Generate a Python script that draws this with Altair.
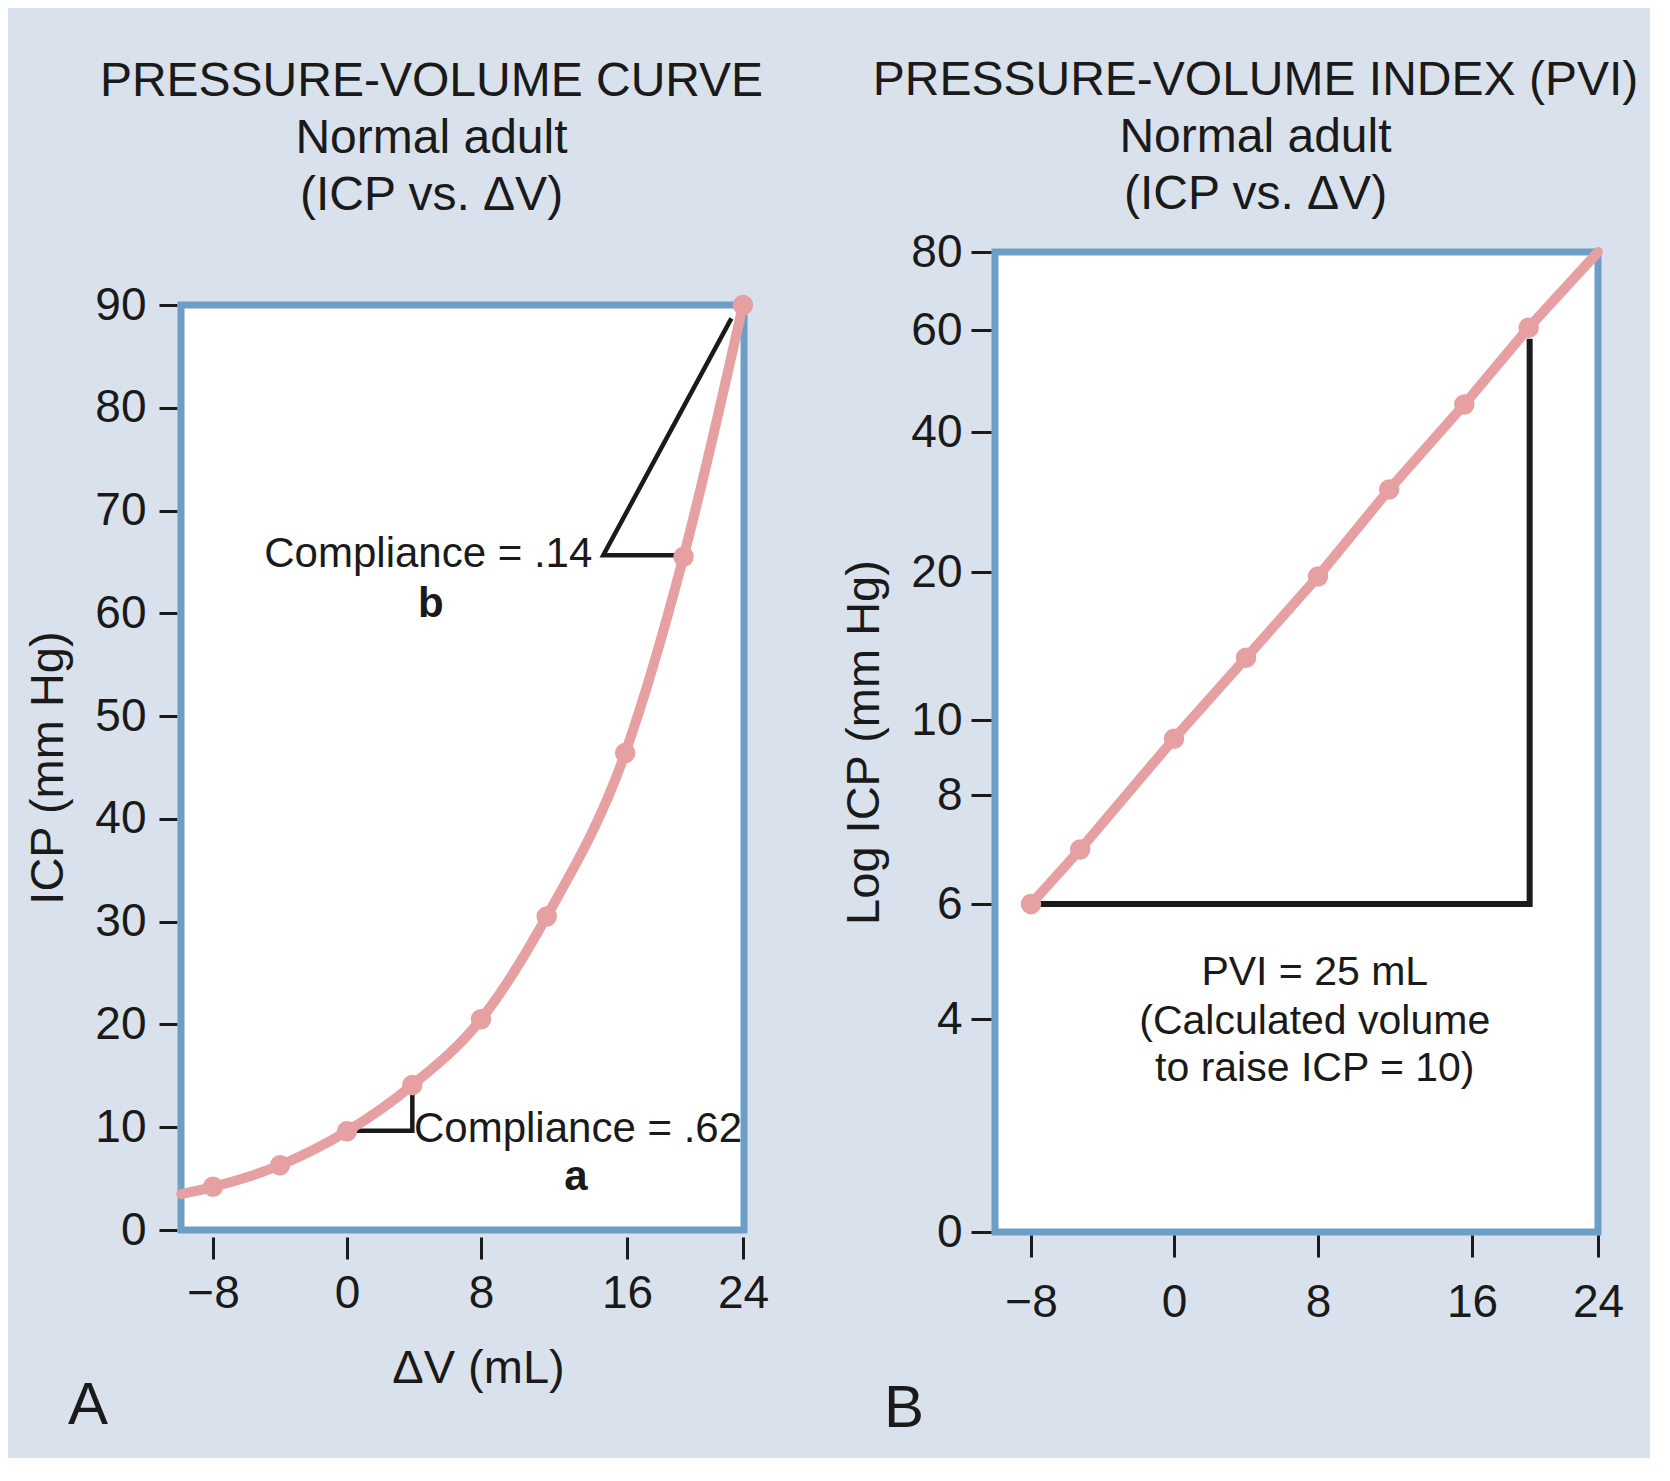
import altair as alt
import pandas as pd

# ---------------- data ----------------
# Panel A: pressure-volume curve (ICP vs. dV)
a_dv = [-9.9, -8, -4, 0, 3.9, 8, 11.6, 15.9, 19.9, 24]
a_icp = [3.5, 4.2, 6.3, 9.6, 14.1, 20.5, 30.5, 46.4, 65.5, 90.0]
a_dot = [False, True, True, True, True, True, True, True, True, True]

# plotting frame of panel A (data extent of the box)
a_frame_dv = [-9.91, 24.07]
a_frame_icp = [0, 90]

# compliance triangles
tri_name = ["a", "a", "a", "b", "b", "b"]
tri_dv = [0, 3.9, 3.9, 20, 14.7, 23.2]
tri_icp = [9.65, 9.65, 13.65, 65.65, 65.65, 88.7]

a_note_text = ["Compliance = .14", "Compliance = .62"]
a_note_dv = [14.1, 4.0]
a_note_icp = [64.5, 8.6]
a_letter_text = ["b", "a"]
a_letter_dv = [5.0, 13.2]
a_letter_icp = [59.6, 3.9]

# Panel B: pressure-volume index (log ICP vs. dV)
b_dv = [-8, -5.25, 0, 4.0, 8, 11.7, 15.6, 19.6, 24]
b_icp = [6, 7.0, 9.5, 14.2, 19.7, 31.8, 45.4, 60.6, 80]
b_dot = [True, True, True, True, True, True, True, True, False]

pvi_dv = [-8, 19.66, 19.66]
pvi_icp = [6, 6, 58.3]

pvi_text = ["PVI = 25 mL", "(Calculated volume", "to raise ICP = 10)"]
pvi_text_dv = [7.82, 7.82, 7.82]
pvi_text_icp = [4.59, 3.71, 2.83]

panel_text = ["A", "B"]
panel_dv = [-15.46, -15.1]
panel_icp = [-18.9, -3.66]

x_ticks = [-8, 0, 8, 16, 24]
a_y_ticks = [0, 10, 20, 30, 40, 50, 60, 70, 80, 90]
b_y_ticks = [0, 4, 6, 8, 10, 20, 40, 60, 80]

# ---------------- styling ----------------
FONT = "Liberation Sans"
INK = "#1a1a1a"
PINK = "#e6a0a2"
FRAME = "#6d9fc6"
BG = "#d9e2ec"

A_W = 563
B_W, H = 603, 980
A_X_RANGE = [32, 166, 300, 446, 562]          # drawn (uneven) tick spacing
A_Y_RANGE = [978, 53]
B_X_RANGE = [36, 179, 323, 477, 603]
B_Y_RANGE = [980, 767, 652, 543, 468, 320, 180, 78, 0]


def axis(values, title, tick_size, offset, label_pad, title_pad):
    return alt.Axis(
        values=values, title=title, grid=False, domain=False,
        ticks=True, tickSize=tick_size, tickWidth=3, tickColor=INK, offset=offset,
        labelFont=FONT, labelFontSize=46, labelColor=INK, labelPadding=label_pad,
        labelFlush=False, labelOverlap=False,
        titleFont=FONT, titleFontSize=47, titleFontWeight="normal", titleColor=INK,
        titlePadding=title_pad,
    )


# ---------------- panel A ----------------
ax = alt.X("dv:Q", scale=alt.Scale(domain=x_ticks, range=A_X_RANGE, nice=False, zero=False),
           axis=axis(x_ticks, "ΔV (mL)", 22, 5, 12, 29))
ay = alt.Y("icp:Q", scale=alt.Scale(domain=[0, 90], range=A_Y_RANGE, nice=False, zero=False),
           axis=axis(a_y_ticks, "ICP (mm Hg)", 18, 4, 13, 22))

a_df = pd.DataFrame({"dv": a_dv, "icp": a_icp, "dot": a_dot})
frame_df = pd.DataFrame({"dv": [a_frame_dv[0]], "dv2": [a_frame_dv[1]],
                         "icp": [a_frame_icp[0]], "icp2": [a_frame_icp[1]]})
tri_df = pd.DataFrame({"tri": tri_name, "dv": tri_dv, "icp": tri_icp,
                       "step": list(range(len(tri_dv)))})
a_note_df = pd.DataFrame({"dv": a_note_dv, "icp": a_note_icp, "label": a_note_text})
a_letter_df = pd.DataFrame({"dv": a_letter_dv, "icp": a_letter_icp, "label": a_letter_text})
a_panel_df = pd.DataFrame({"dv": [panel_dv[0]], "icp": [panel_icp[0]], "label": [panel_text[0]]})

a_frame = alt.Chart(frame_df).mark_rect(fill="white", stroke=FRAME, strokeWidth=7).encode(
    x=ax, x2="dv2", y=ay, y2="icp2")
a_tri = alt.Chart(tri_df).mark_line(color=INK, strokeWidth=4.5, strokeJoin="miter").encode(
    x=ax, y=ay, detail="tri:N", order="step:Q")
a_line = alt.Chart(a_df).mark_line(color=PINK, strokeWidth=10, interpolate="monotone",
                                   strokeCap="round").encode(x=ax, y=ay)
a_pts = alt.Chart(a_df).transform_filter("datum.dot").mark_circle(
    color=PINK, size=420, opacity=1).encode(x=ax, y=ay)
a_note_r = alt.Chart(a_note_df.iloc[[0]]).mark_text(
    align="right", baseline="alphabetic", font=FONT, fontSize=42, color=INK).encode(
    x=ax, y=ay, text="label:N")
a_note_l = alt.Chart(a_note_df.iloc[[1]]).mark_text(
    align="left", baseline="alphabetic", font=FONT, fontSize=42, color=INK).encode(
    x=ax, y=ay, text="label:N")
a_letters = alt.Chart(a_letter_df).mark_text(
    align="center", baseline="alphabetic", font=FONT, fontSize=42, fontWeight="bold",
    color=INK).encode(x=ax, y=ay, text="label:N")
a_panel = alt.Chart(a_panel_df).mark_text(
    align="center", baseline="alphabetic", font=FONT, fontSize=60, color=INK).encode(
    x=ax, y=ay, text="label:N")

left = alt.layer(a_frame, a_tri, a_line, a_pts, a_note_r, a_note_l, a_letters, a_panel).properties(
    width=A_W, height=H,
    view=alt.ViewBackground(strokeWidth=0, strokeOpacity=0, fill=BG),
    title=alt.TitleParams(
        text=["PRESSURE-VOLUME CURVE", "Normal adult", "(ICP vs. ΔV)"],
        font=FONT, fontSize=48, fontWeight="normal", color=INK, lineHeight=57,
        anchor="middle", frame="group", dx=-31, offset=32),
)

# ---------------- panel B ----------------
bx = alt.X("dv:Q", scale=alt.Scale(domain=x_ticks, range=B_X_RANGE, nice=False, zero=False),
           axis=axis(x_ticks, None, 22, 3, 23, 10))
by = alt.Y("icp:Q", scale=alt.Scale(domain=b_y_ticks, range=B_Y_RANGE, nice=False, zero=False),
           axis=axis(b_y_ticks, "Log ICP (mm Hg)", 20, 4, 9, 22))

b_df = pd.DataFrame({"dv": b_dv, "icp": b_icp, "dot": b_dot})
pvi_df = pd.DataFrame({"dv": pvi_dv, "icp": pvi_icp, "step": list(range(len(pvi_dv)))})
pvi_text_df = pd.DataFrame({"dv": pvi_text_dv, "icp": pvi_text_icp, "label": pvi_text})
b_panel_df = pd.DataFrame({"dv": [panel_dv[1]], "icp": [panel_icp[1]], "label": [panel_text[1]]})

b_guide = alt.Chart(pvi_df).mark_line(color=INK, strokeWidth=6, strokeJoin="miter").encode(
    x=bx, y=by, order="step:Q")
b_line = alt.Chart(b_df).mark_line(color=PINK, strokeWidth=10, strokeCap="round").encode(
    x=bx, y=by)
b_pts = alt.Chart(b_df).transform_filter("datum.dot").mark_circle(
    color=PINK, size=420, opacity=1).encode(x=bx, y=by)
b_text = alt.Chart(pvi_text_df).mark_text(
    align="center", baseline="alphabetic", font=FONT, fontSize=41, color=INK).encode(
    x=bx, y=by, text="label:N")
b_panel = alt.Chart(b_panel_df).mark_text(
    align="center", baseline="alphabetic", font=FONT, fontSize=60, color=INK).encode(
    x=bx, y=by, text="label:N")

right = alt.layer(b_guide, b_line, b_pts, b_text, b_panel).properties(
    width=B_W, height=H,
    view=alt.ViewBackground(fill="white", stroke=FRAME, strokeWidth=7),
    title=alt.TitleParams(
        text=["PRESSURE-VOLUME INDEX (PVI)", "Normal adult", "(ICP vs. ΔV)"],
        font=FONT, fontSize=48, fontWeight="normal", color=INK, lineHeight=57,
        anchor="middle", frame="group", dx=-41, offset=10),
)

chart = alt.hconcat(left, right, spacing=68).properties(
    padding={"left": 16, "top": 45, "right": 8, "bottom": 15}
).configure(background=BG, font=FONT)

chart.save("out.html", embed_options={"renderer": "svg", "actions": False})
